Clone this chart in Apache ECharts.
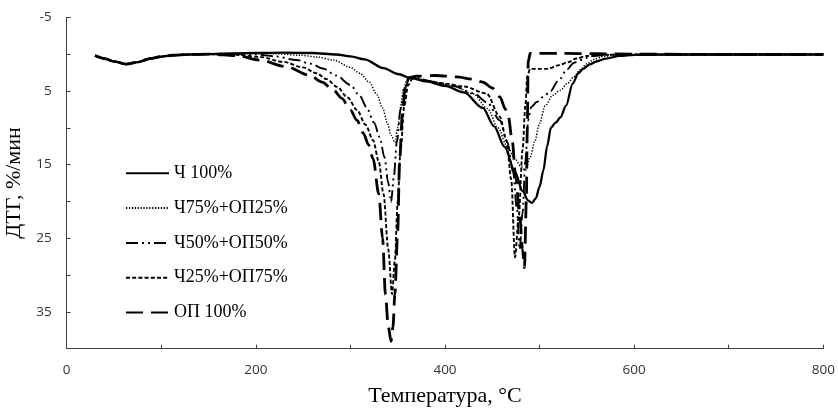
<!DOCTYPE html>
<html>
<head>
<meta charset="utf-8">
<script src="https://cdn.jsdelivr.net/npm/echarts@6/dist/echarts.min.js"></script>
<style>
html,body{margin:0;padding:0;background:#fff;}
#chart{width:838px;height:408px;}
</style>
</head>
<body>
<div id="chart"></div>
<script>
// Series names
const seriesNames = ['Ч 100%', 'Ч75%+ОП25%', 'Ч50%+ОП50%', 'Ч25%+ОП75%', 'ОП 100%'];

// Ч 100%
const tCh100 = [30,40,50,63,75,88,100,112,130,150,175,200,230,260,285,300,315,335,350,365,380,400,420,440,452,463,474,482,488,492,496,500,504,508,512,517,522,528,535,541,546,553,560,570,585,600,650,700,800];
const vCh100 = [0.2,0.6,1.0,1.35,1.1,0.6,0.35,0.15,0.05,0.0,-0.1,-0.15,-0.2,-0.15,0.05,0.3,0.7,1.9,2.7,3.3,3.7,4.3,5.2,7.3,9.8,12.6,16.0,18.6,19.9,20.2,19.6,18.0,15.8,12.5,10.0,9.3,8.6,7.0,4.0,2.6,2.0,1.4,1.0,0.6,0.25,0.1,0.05,0.05,0.05];

// Ч75%+ОП25%
const tCh75 = [30,40,50,63,75,88,100,112,130,150,175,200,222,247,265,282,300,310,320,328,334,339,343,347,350,353,356,360,366,375,390,410,430,445,456,466,474,480,485,490,495,500,506,514,522,530,536,543,550,558,566,580,600,700,800];
const vCh75 = [0.2,0.6,1.0,1.35,1.1,0.6,0.35,0.15,0.05,0.0,-0.1,-0.1,-0.05,0.15,0.4,0.8,1.8,2.6,3.8,5.5,7.3,9.3,11.0,12.0,10.0,7.2,4.8,3.5,3.1,3.4,3.9,4.4,5.4,7.4,10.0,12.6,14.2,15.2,15.8,14.0,11.8,9.4,7.0,5.6,4.9,3.9,3.1,2.1,1.3,0.7,0.35,0.15,0.1,0.05,0.05];

// Ч50%+ОП50%
const tCh50 = [30,40,50,63,75,88,100,112,130,150,175,200,220,243,258,271,285,300,310,317,325,331,336,340,343,346,349,353,357,362,370,385,408,430,445,458,466,472,476,479,482,485,488,491,497,504,511,520,529,536,543,555,570,600,700,800];
const vCh50 = [0.2,0.6,1.0,1.35,1.1,0.6,0.35,0.15,0.05,0.0,0.0,0.05,0.3,0.8,1.3,1.95,2.9,4.2,5.7,7.2,9.3,11.3,14.0,17.5,20.1,16.5,12.0,7.5,4.8,3.4,3.2,3.7,4.3,5.3,6.6,9.0,12.0,16.0,21.0,26.5,21.5,14.5,9.0,7.2,6.5,5.8,5.1,3.6,2.1,1.2,0.8,0.3,0.1,0.05,0.05,0.05];

// Ч25%+ОП75%
const tCh25 = [30,40,50,63,75,88,100,112,130,150,180,205,229,250,264,275,286,297,307,316,324,330,335,340,344,347,350,353,357,361,366,380,400,420,444,458,465,470,474,478,482,485,487,490,500,508,521,530,539,550,565,600,700,800];
const vCh25 = [0.2,0.6,1.0,1.35,1.1,0.6,0.35,0.15,0.05,0.0,0.1,0.4,1.05,1.8,2.6,3.4,4.45,5.9,7.6,9.6,11.7,14.6,19.0,26.5,32.6,28.0,20.0,13.0,7.0,4.2,3.3,3.6,4.0,4.4,5.35,8.5,11.7,17.0,27.6,22.0,13.0,7.0,3.0,2.0,2.0,2.0,1.5,1.1,0.6,0.25,0.1,0.05,0.05,0.05];

// ОП 100%
const tOp100 = [30,40,50,63,75,88,100,112,130,150,180,204,232,257,270,282,291,300,307,314,319,324,330,334,337,340,343,345,347,350,352,355,358,362,370,390,412,430,440,450,458,464,467,471,475,479,482,484,486,487,488,490,520,600,700,800];
const vOp100 = [0.2,0.6,1.0,1.35,1.1,0.6,0.35,0.15,0.05,0.0,0.2,0.8,1.7,2.86,3.8,4.9,6.0,7.6,9.0,10.8,12.3,14.2,19.0,25.0,32.6,37.0,39.0,37.0,32.6,24.0,14.4,8.0,4.5,3.2,3.0,2.9,3.1,3.4,3.8,4.6,5.8,7.5,8.5,11.7,17.0,22.0,26.5,29.0,20.0,10.0,1.0,-0.1,-0.1,0.0,0.05,0.05];

// Axis ticks
const xTickLabels = [0, 200, 400, 600, 800];
const yTickLabels = [-5, 5, 15, 25, 35];

const pair = (t, v) => t.map((x, i) => [x, v[i]]);

const styles = [
  { width: 2.3, type: 'solid' },
  { width: 1.5, type: [1.3, 1.6] },
  { width: 1.9, type: [12, 4, 2, 4, 2, 4] },
  { width: 1.9, type: [4, 2.2] },
  { width: 2.8, type: [17, 8] }
];
const tArr = [tCh100, tCh75, tCh50, tCh25, tOp100];
const vArr = [vCh100, vCh75, vCh50, vCh25, vOp100];

const serif = 'Liberation Serif, Times New Roman, serif';
const sans = 'Open Sans, sans-serif';

const chart = echarts.init(document.getElementById('chart'), null, { renderer: 'canvas' });
chart.setOption({
  animation: false,
  backgroundColor: '#fff',
  grid: { left: 66.7, right: 14.7, top: 17.3, bottom: 59.3, containLabel: false, outerBoundsMode: 'none' },
  legend: {
    orient: 'vertical',
    left: 120,
    top: 159.3,
    itemWidth: 43,
    itemHeight: 18,
    itemGap: 16.8,
    data: seriesNames,
    itemStyle: { color: 'rgba(0,0,0,0)', borderWidth: 0, opacity: 0 },
    textStyle: { fontFamily: serif, fontSize: 18, color: '#000' }
  },
  xAxis: {
    type: 'value',
    min: 0, max: 800, interval: 100,
    name: 'Температура, °C',
    nameLocation: 'middle',
    nameGap: 37,
    nameTextStyle: { fontFamily: serif, fontSize: 22, color: '#000' },
    axisLine: { onZero: false, lineStyle: { color: '#404040', width: 1 } },
    axisTick: { inside: true, length: 4, lineStyle: { color: '#404040' } },
    axisLabel: {
      margin: 14,
      fontFamily: sans, fontSize: 13.5, color: '#333',
      formatter: v => xTickLabels.includes(v) ? String(v) : ''
    },
    splitLine: { show: false }
  },
  yAxis: {
    type: 'value',
    inverse: true,
    min: -5, max: 40, interval: 5,
    name: 'ДТГ, %/мин',
    nameLocation: 'middle',
    nameGap: 33,
    nameTextStyle: { fontFamily: serif, fontSize: 22, color: '#000' },
    axisLine: { show: true, onZero: false, lineStyle: { color: '#404040', width: 1 } },
    axisTick: { show: true, inside: true, length: 4, lineStyle: { color: '#404040' } },
    axisLabel: {
      margin: 15,
      fontFamily: sans, fontSize: 13.5, color: '#333',
      formatter: v => yTickLabels.includes(v) ? String(v) : ''
    },
    splitLine: { show: false }
  },
  series: seriesNames.map((name, i) => ({
    name: name,
    type: 'line',
    data: pair(tArr[i], vArr[i]),
    showSymbol: false,
    symbol: 'none',
    smooth: 0.3,
    smoothMonotone: 'x',
    z: 10 - i,
    lineStyle: { color: '#000', width: styles[i].width, type: styles[i].type },
    itemStyle: { color: '#000' }
  }))
});
</script>
</body>
</html>
